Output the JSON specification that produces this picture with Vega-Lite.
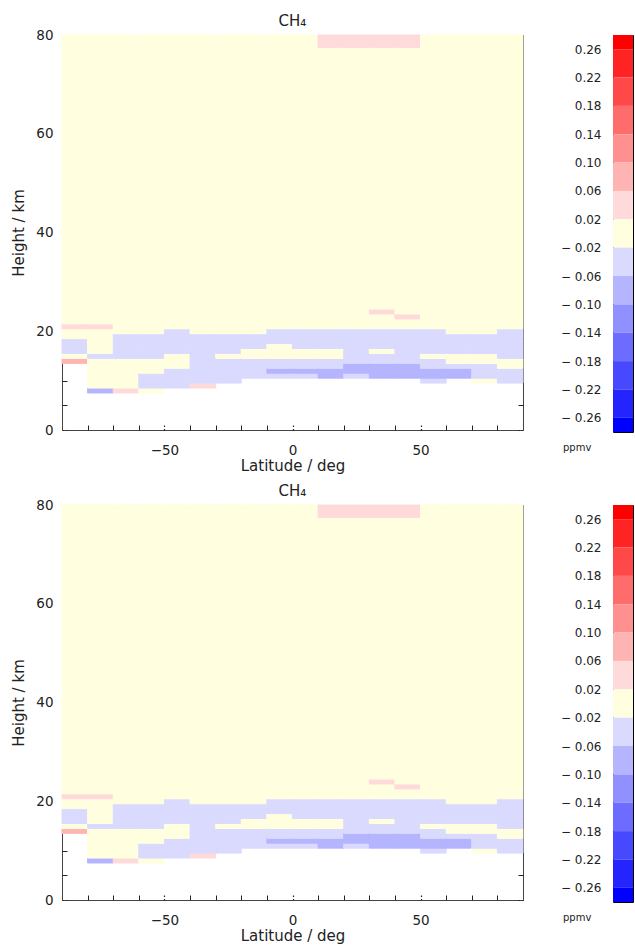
{
"$schema": "https://vega.github.io/schema/vega-lite/v6.json",
"autosize": {"type": "none"},
"padding": {"left": 62, "top": 35, "right": 573, "bottom": 910},
"background": "white",
"config": {"font": "DejaVu Sans", "axis": {"grid": false, "labelColor": "#222", "titleColor": "#222", "tickColor": "#222"}, "title": {"color": "#222"}},
"datasets": {
"cells": [
{"lat1":-90,"lat2":-80,"h1":13.5,"h2":14.5,"dv":0.08},
{"lat1":-90,"lat2":-80,"h1":14.5,"h2":15.5,"dv":0},
{"lat1":-90,"lat2":-80,"h1":15.5,"h2":16.5,"dv":-0.04},
{"lat1":-90,"lat2":-80,"h1":16.5,"h2":17.5,"dv":-0.04},
{"lat1":-90,"lat2":-80,"h1":17.5,"h2":18.5,"dv":-0.04},
{"lat1":-90,"lat2":-80,"h1":18.5,"h2":19.5,"dv":0},
{"lat1":-90,"lat2":-80,"h1":19.5,"h2":20.5,"dv":0},
{"lat1":-90,"lat2":-80,"h1":20.5,"h2":21.5,"dv":0.04},
{"lat1":-90,"lat2":-80,"h1":21.5,"h2":80,"dv":0},
{"lat1":-80,"lat2":-70,"h1":7.5,"h2":8.5,"dv":-0.08},
{"lat1":-80,"lat2":-70,"h1":8.5,"h2":9.5,"dv":0},
{"lat1":-80,"lat2":-70,"h1":9.5,"h2":10.5,"dv":0},
{"lat1":-80,"lat2":-70,"h1":10.5,"h2":11.5,"dv":0},
{"lat1":-80,"lat2":-70,"h1":11.5,"h2":12.5,"dv":0},
{"lat1":-80,"lat2":-70,"h1":12.5,"h2":13.5,"dv":0},
{"lat1":-80,"lat2":-70,"h1":13.5,"h2":14.5,"dv":0},
{"lat1":-80,"lat2":-70,"h1":14.5,"h2":15.5,"dv":-0.04},
{"lat1":-80,"lat2":-70,"h1":15.5,"h2":16.5,"dv":0},
{"lat1":-80,"lat2":-70,"h1":16.5,"h2":17.5,"dv":0},
{"lat1":-80,"lat2":-70,"h1":17.5,"h2":18.5,"dv":0},
{"lat1":-80,"lat2":-70,"h1":18.5,"h2":19.5,"dv":0},
{"lat1":-80,"lat2":-70,"h1":19.5,"h2":20.5,"dv":0},
{"lat1":-80,"lat2":-70,"h1":20.5,"h2":21.5,"dv":0.04},
{"lat1":-80,"lat2":-70,"h1":21.5,"h2":80,"dv":0},
{"lat1":-70,"lat2":-60,"h1":7.5,"h2":8.5,"dv":0.04},
{"lat1":-70,"lat2":-60,"h1":8.5,"h2":9.5,"dv":0},
{"lat1":-70,"lat2":-60,"h1":9.5,"h2":10.5,"dv":0},
{"lat1":-70,"lat2":-60,"h1":10.5,"h2":11.5,"dv":0},
{"lat1":-70,"lat2":-60,"h1":11.5,"h2":12.5,"dv":0},
{"lat1":-70,"lat2":-60,"h1":12.5,"h2":13.5,"dv":0},
{"lat1":-70,"lat2":-60,"h1":13.5,"h2":14.5,"dv":0},
{"lat1":-70,"lat2":-60,"h1":14.5,"h2":15.5,"dv":-0.04},
{"lat1":-70,"lat2":-60,"h1":15.5,"h2":16.5,"dv":-0.04},
{"lat1":-70,"lat2":-60,"h1":16.5,"h2":17.5,"dv":-0.04},
{"lat1":-70,"lat2":-60,"h1":17.5,"h2":18.5,"dv":-0.04},
{"lat1":-70,"lat2":-60,"h1":18.5,"h2":19.5,"dv":-0.04},
{"lat1":-70,"lat2":-60,"h1":19.5,"h2":20.5,"dv":0},
{"lat1":-70,"lat2":-60,"h1":20.5,"h2":21.5,"dv":0},
{"lat1":-70,"lat2":-60,"h1":21.5,"h2":80,"dv":0},
{"lat1":-60,"lat2":-50,"h1":7.5,"h2":8.5,"dv":0},
{"lat1":-60,"lat2":-50,"h1":8.5,"h2":9.5,"dv":-0.04},
{"lat1":-60,"lat2":-50,"h1":9.5,"h2":10.5,"dv":-0.04},
{"lat1":-60,"lat2":-50,"h1":10.5,"h2":11.5,"dv":-0.04},
{"lat1":-60,"lat2":-50,"h1":11.5,"h2":12.5,"dv":0},
{"lat1":-60,"lat2":-50,"h1":12.5,"h2":13.5,"dv":0},
{"lat1":-60,"lat2":-50,"h1":13.5,"h2":14.5,"dv":0},
{"lat1":-60,"lat2":-50,"h1":14.5,"h2":15.5,"dv":-0.04},
{"lat1":-60,"lat2":-50,"h1":15.5,"h2":16.5,"dv":-0.04},
{"lat1":-60,"lat2":-50,"h1":16.5,"h2":17.5,"dv":-0.04},
{"lat1":-60,"lat2":-50,"h1":17.5,"h2":18.5,"dv":-0.04},
{"lat1":-60,"lat2":-50,"h1":18.5,"h2":19.5,"dv":-0.04},
{"lat1":-60,"lat2":-50,"h1":19.5,"h2":20.5,"dv":0},
{"lat1":-60,"lat2":-50,"h1":20.5,"h2":21.5,"dv":0},
{"lat1":-60,"lat2":-50,"h1":21.5,"h2":80,"dv":0},
{"lat1":-50,"lat2":-40,"h1":8.5,"h2":9.5,"dv":-0.04},
{"lat1":-50,"lat2":-40,"h1":9.5,"h2":10.5,"dv":-0.04},
{"lat1":-50,"lat2":-40,"h1":10.5,"h2":11.5,"dv":-0.04},
{"lat1":-50,"lat2":-40,"h1":11.5,"h2":12.5,"dv":-0.04},
{"lat1":-50,"lat2":-40,"h1":12.5,"h2":13.5,"dv":0},
{"lat1":-50,"lat2":-40,"h1":13.5,"h2":14.5,"dv":0},
{"lat1":-50,"lat2":-40,"h1":14.5,"h2":15.5,"dv":0},
{"lat1":-50,"lat2":-40,"h1":15.5,"h2":16.5,"dv":-0.04},
{"lat1":-50,"lat2":-40,"h1":16.5,"h2":17.5,"dv":-0.04},
{"lat1":-50,"lat2":-40,"h1":17.5,"h2":18.5,"dv":-0.04},
{"lat1":-50,"lat2":-40,"h1":18.5,"h2":19.5,"dv":-0.04},
{"lat1":-50,"lat2":-40,"h1":19.5,"h2":20.5,"dv":-0.04},
{"lat1":-50,"lat2":-40,"h1":20.5,"h2":21.5,"dv":0},
{"lat1":-50,"lat2":-40,"h1":21.5,"h2":80,"dv":0},
{"lat1":-40,"lat2":-30,"h1":8.5,"h2":9.5,"dv":0.04},
{"lat1":-40,"lat2":-30,"h1":9.5,"h2":10.5,"dv":-0.04},
{"lat1":-40,"lat2":-30,"h1":10.5,"h2":11.5,"dv":-0.04},
{"lat1":-40,"lat2":-30,"h1":11.5,"h2":12.5,"dv":-0.04},
{"lat1":-40,"lat2":-30,"h1":12.5,"h2":13.5,"dv":-0.04},
{"lat1":-40,"lat2":-30,"h1":13.5,"h2":14.5,"dv":-0.04},
{"lat1":-40,"lat2":-30,"h1":14.5,"h2":15.5,"dv":-0.04},
{"lat1":-40,"lat2":-30,"h1":15.5,"h2":16.5,"dv":-0.04},
{"lat1":-40,"lat2":-30,"h1":16.5,"h2":17.5,"dv":-0.04},
{"lat1":-40,"lat2":-30,"h1":17.5,"h2":18.5,"dv":-0.04},
{"lat1":-40,"lat2":-30,"h1":18.5,"h2":19.5,"dv":-0.04},
{"lat1":-40,"lat2":-30,"h1":19.5,"h2":20.5,"dv":0},
{"lat1":-40,"lat2":-30,"h1":20.5,"h2":21.5,"dv":0},
{"lat1":-40,"lat2":-30,"h1":21.5,"h2":80,"dv":0},
{"lat1":-30,"lat2":-20,"h1":9.5,"h2":10.5,"dv":-0.04},
{"lat1":-30,"lat2":-20,"h1":10.5,"h2":11.5,"dv":-0.04},
{"lat1":-30,"lat2":-20,"h1":11.5,"h2":12.5,"dv":-0.04},
{"lat1":-30,"lat2":-20,"h1":12.5,"h2":13.5,"dv":-0.04},
{"lat1":-30,"lat2":-20,"h1":13.5,"h2":14.5,"dv":-0.04},
{"lat1":-30,"lat2":-20,"h1":14.5,"h2":15.5,"dv":0},
{"lat1":-30,"lat2":-20,"h1":15.5,"h2":16.5,"dv":-0.04},
{"lat1":-30,"lat2":-20,"h1":16.5,"h2":17.5,"dv":-0.04},
{"lat1":-30,"lat2":-20,"h1":17.5,"h2":18.5,"dv":-0.04},
{"lat1":-30,"lat2":-20,"h1":18.5,"h2":19.5,"dv":-0.04},
{"lat1":-30,"lat2":-20,"h1":19.5,"h2":20.5,"dv":0},
{"lat1":-30,"lat2":-20,"h1":20.5,"h2":21.5,"dv":0},
{"lat1":-30,"lat2":-20,"h1":21.5,"h2":80,"dv":0},
{"lat1":-20,"lat2":-10,"h1":10.5,"h2":11.5,"dv":-0.04},
{"lat1":-20,"lat2":-10,"h1":11.5,"h2":12.5,"dv":-0.04},
{"lat1":-20,"lat2":-10,"h1":12.5,"h2":13.5,"dv":-0.04},
{"lat1":-20,"lat2":-10,"h1":13.5,"h2":14.5,"dv":-0.04},
{"lat1":-20,"lat2":-10,"h1":14.5,"h2":15.5,"dv":0},
{"lat1":-20,"lat2":-10,"h1":15.5,"h2":16.5,"dv":0},
{"lat1":-20,"lat2":-10,"h1":16.5,"h2":17.5,"dv":-0.04},
{"lat1":-20,"lat2":-10,"h1":17.5,"h2":18.5,"dv":-0.04},
{"lat1":-20,"lat2":-10,"h1":18.5,"h2":19.5,"dv":-0.04},
{"lat1":-20,"lat2":-10,"h1":19.5,"h2":20.5,"dv":0},
{"lat1":-20,"lat2":-10,"h1":20.5,"h2":21.5,"dv":0},
{"lat1":-20,"lat2":-10,"h1":21.5,"h2":80,"dv":0},
{"lat1":-10,"lat2":0,"h1":10.5,"h2":11.5,"dv":-0.04},
{"lat1":-10,"lat2":0,"h1":11.5,"h2":12.5,"dv":-0.08},
{"lat1":-10,"lat2":0,"h1":12.5,"h2":13.5,"dv":-0.04},
{"lat1":-10,"lat2":0,"h1":13.5,"h2":14.5,"dv":-0.04},
{"lat1":-10,"lat2":0,"h1":14.5,"h2":15.5,"dv":0},
{"lat1":-10,"lat2":0,"h1":15.5,"h2":16.5,"dv":0},
{"lat1":-10,"lat2":0,"h1":16.5,"h2":17.5,"dv":0},
{"lat1":-10,"lat2":0,"h1":17.5,"h2":18.5,"dv":-0.04},
{"lat1":-10,"lat2":0,"h1":18.5,"h2":19.5,"dv":-0.04},
{"lat1":-10,"lat2":0,"h1":19.5,"h2":20.5,"dv":-0.04},
{"lat1":-10,"lat2":0,"h1":20.5,"h2":21.5,"dv":0},
{"lat1":-10,"lat2":0,"h1":21.5,"h2":80,"dv":0},
{"lat1":0,"lat2":10,"h1":10.5,"h2":11.5,"dv":-0.04},
{"lat1":0,"lat2":10,"h1":11.5,"h2":12.5,"dv":-0.08},
{"lat1":0,"lat2":10,"h1":12.5,"h2":13.5,"dv":-0.04},
{"lat1":0,"lat2":10,"h1":13.5,"h2":14.5,"dv":-0.04},
{"lat1":0,"lat2":10,"h1":14.5,"h2":15.5,"dv":0},
{"lat1":0,"lat2":10,"h1":15.5,"h2":16.5,"dv":0},
{"lat1":0,"lat2":10,"h1":16.5,"h2":17.5,"dv":-0.04},
{"lat1":0,"lat2":10,"h1":17.5,"h2":18.5,"dv":-0.04},
{"lat1":0,"lat2":10,"h1":18.5,"h2":19.5,"dv":-0.04},
{"lat1":0,"lat2":10,"h1":19.5,"h2":20.5,"dv":-0.04},
{"lat1":0,"lat2":10,"h1":20.5,"h2":21.5,"dv":0},
{"lat1":0,"lat2":10,"h1":21.5,"h2":80,"dv":0},
{"lat1":10,"lat2":20,"h1":10.5,"h2":11.5,"dv":-0.08},
{"lat1":10,"lat2":20,"h1":11.5,"h2":12.5,"dv":-0.08},
{"lat1":10,"lat2":20,"h1":12.5,"h2":13.5,"dv":-0.04},
{"lat1":10,"lat2":20,"h1":13.5,"h2":14.5,"dv":-0.04},
{"lat1":10,"lat2":20,"h1":14.5,"h2":15.5,"dv":0},
{"lat1":10,"lat2":20,"h1":15.5,"h2":16.5,"dv":0},
{"lat1":10,"lat2":20,"h1":16.5,"h2":17.5,"dv":-0.04},
{"lat1":10,"lat2":20,"h1":17.5,"h2":18.5,"dv":-0.04},
{"lat1":10,"lat2":20,"h1":18.5,"h2":19.5,"dv":-0.04},
{"lat1":10,"lat2":20,"h1":19.5,"h2":20.5,"dv":-0.04},
{"lat1":10,"lat2":20,"h1":20.5,"h2":21.5,"dv":0},
{"lat1":10,"lat2":20,"h1":21.5,"h2":77.5,"dv":0},
{"lat1":10,"lat2":20,"h1":77.5,"h2":80,"dv":0.04},
{"lat1":20,"lat2":30,"h1":10.5,"h2":11.5,"dv":-0.04},
{"lat1":20,"lat2":30,"h1":11.5,"h2":12.5,"dv":-0.08},
{"lat1":20,"lat2":30,"h1":12.5,"h2":13.5,"dv":-0.08},
{"lat1":20,"lat2":30,"h1":13.5,"h2":14.5,"dv":-0.04},
{"lat1":20,"lat2":30,"h1":14.5,"h2":15.5,"dv":-0.04},
{"lat1":20,"lat2":30,"h1":15.5,"h2":16.5,"dv":-0.04},
{"lat1":20,"lat2":30,"h1":16.5,"h2":17.5,"dv":-0.04},
{"lat1":20,"lat2":30,"h1":17.5,"h2":18.5,"dv":-0.04},
{"lat1":20,"lat2":30,"h1":18.5,"h2":19.5,"dv":-0.04},
{"lat1":20,"lat2":30,"h1":19.5,"h2":20.5,"dv":-0.04},
{"lat1":20,"lat2":30,"h1":20.5,"h2":21.5,"dv":0},
{"lat1":20,"lat2":30,"h1":21.5,"h2":77.5,"dv":0},
{"lat1":20,"lat2":30,"h1":77.5,"h2":80,"dv":0.04},
{"lat1":30,"lat2":40,"h1":10.5,"h2":11.5,"dv":-0.08},
{"lat1":30,"lat2":40,"h1":11.5,"h2":12.5,"dv":-0.08},
{"lat1":30,"lat2":40,"h1":12.5,"h2":13.5,"dv":-0.08},
{"lat1":30,"lat2":40,"h1":13.5,"h2":14.5,"dv":-0.04},
{"lat1":30,"lat2":40,"h1":14.5,"h2":15.5,"dv":-0.04},
{"lat1":30,"lat2":40,"h1":15.5,"h2":16.5,"dv":0},
{"lat1":30,"lat2":40,"h1":16.5,"h2":17.5,"dv":-0.04},
{"lat1":30,"lat2":40,"h1":17.5,"h2":18.5,"dv":-0.04},
{"lat1":30,"lat2":40,"h1":18.5,"h2":19.5,"dv":-0.04},
{"lat1":30,"lat2":40,"h1":19.5,"h2":20.5,"dv":-0.04},
{"lat1":30,"lat2":40,"h1":20.5,"h2":21.5,"dv":0},
{"lat1":30,"lat2":40,"h1":21.5,"h2":22.5,"dv":0},
{"lat1":30,"lat2":40,"h1":22.5,"h2":23.5,"dv":0},
{"lat1":30,"lat2":40,"h1":23.5,"h2":24.5,"dv":0.04},
{"lat1":30,"lat2":40,"h1":24.5,"h2":77.5,"dv":0},
{"lat1":30,"lat2":40,"h1":77.5,"h2":80,"dv":0.04},
{"lat1":40,"lat2":50,"h1":10.5,"h2":11.5,"dv":-0.08},
{"lat1":40,"lat2":50,"h1":11.5,"h2":12.5,"dv":-0.08},
{"lat1":40,"lat2":50,"h1":12.5,"h2":13.5,"dv":-0.08},
{"lat1":40,"lat2":50,"h1":13.5,"h2":14.5,"dv":-0.04},
{"lat1":40,"lat2":50,"h1":14.5,"h2":15.5,"dv":-0.04},
{"lat1":40,"lat2":50,"h1":15.5,"h2":16.5,"dv":-0.04},
{"lat1":40,"lat2":50,"h1":16.5,"h2":17.5,"dv":-0.04},
{"lat1":40,"lat2":50,"h1":17.5,"h2":18.5,"dv":-0.04},
{"lat1":40,"lat2":50,"h1":18.5,"h2":19.5,"dv":-0.04},
{"lat1":40,"lat2":50,"h1":19.5,"h2":20.5,"dv":-0.04},
{"lat1":40,"lat2":50,"h1":20.5,"h2":21.5,"dv":0},
{"lat1":40,"lat2":50,"h1":21.5,"h2":22.5,"dv":0},
{"lat1":40,"lat2":50,"h1":22.5,"h2":23.5,"dv":0.04},
{"lat1":40,"lat2":50,"h1":23.5,"h2":77.5,"dv":0},
{"lat1":40,"lat2":50,"h1":77.5,"h2":80,"dv":0.04},
{"lat1":50,"lat2":60,"h1":9.5,"h2":10.5,"dv":-0.04},
{"lat1":50,"lat2":60,"h1":10.5,"h2":11.5,"dv":-0.08},
{"lat1":50,"lat2":60,"h1":11.5,"h2":12.5,"dv":-0.08},
{"lat1":50,"lat2":60,"h1":12.5,"h2":13.5,"dv":-0.04},
{"lat1":50,"lat2":60,"h1":13.5,"h2":14.5,"dv":-0.04},
{"lat1":50,"lat2":60,"h1":14.5,"h2":15.5,"dv":0},
{"lat1":50,"lat2":60,"h1":15.5,"h2":16.5,"dv":-0.04},
{"lat1":50,"lat2":60,"h1":16.5,"h2":17.5,"dv":-0.04},
{"lat1":50,"lat2":60,"h1":17.5,"h2":18.5,"dv":-0.04},
{"lat1":50,"lat2":60,"h1":18.5,"h2":19.5,"dv":-0.04},
{"lat1":50,"lat2":60,"h1":19.5,"h2":20.5,"dv":-0.04},
{"lat1":50,"lat2":60,"h1":20.5,"h2":21.5,"dv":0},
{"lat1":50,"lat2":60,"h1":21.5,"h2":80,"dv":0},
{"lat1":60,"lat2":70,"h1":10.5,"h2":11.5,"dv":-0.08},
{"lat1":60,"lat2":70,"h1":11.5,"h2":12.5,"dv":-0.08},
{"lat1":60,"lat2":70,"h1":12.5,"h2":13.5,"dv":-0.04},
{"lat1":60,"lat2":70,"h1":13.5,"h2":14.5,"dv":0},
{"lat1":60,"lat2":70,"h1":14.5,"h2":15.5,"dv":0},
{"lat1":60,"lat2":70,"h1":15.5,"h2":16.5,"dv":-0.04},
{"lat1":60,"lat2":70,"h1":16.5,"h2":17.5,"dv":-0.04},
{"lat1":60,"lat2":70,"h1":17.5,"h2":18.5,"dv":-0.04},
{"lat1":60,"lat2":70,"h1":18.5,"h2":19.5,"dv":-0.04},
{"lat1":60,"lat2":70,"h1":19.5,"h2":20.5,"dv":0},
{"lat1":60,"lat2":70,"h1":20.5,"h2":21.5,"dv":0},
{"lat1":60,"lat2":70,"h1":21.5,"h2":80,"dv":0},
{"lat1":70,"lat2":80,"h1":9.5,"h2":10.5,"dv":0},
{"lat1":70,"lat2":80,"h1":10.5,"h2":11.5,"dv":-0.04},
{"lat1":70,"lat2":80,"h1":11.5,"h2":12.5,"dv":-0.04},
{"lat1":70,"lat2":80,"h1":12.5,"h2":13.5,"dv":-0.04},
{"lat1":70,"lat2":80,"h1":13.5,"h2":14.5,"dv":0},
{"lat1":70,"lat2":80,"h1":14.5,"h2":15.5,"dv":0},
{"lat1":70,"lat2":80,"h1":15.5,"h2":16.5,"dv":-0.04},
{"lat1":70,"lat2":80,"h1":16.5,"h2":17.5,"dv":-0.04},
{"lat1":70,"lat2":80,"h1":17.5,"h2":18.5,"dv":-0.04},
{"lat1":70,"lat2":80,"h1":18.5,"h2":19.5,"dv":-0.04},
{"lat1":70,"lat2":80,"h1":19.5,"h2":20.5,"dv":0},
{"lat1":70,"lat2":80,"h1":20.5,"h2":21.5,"dv":0},
{"lat1":70,"lat2":80,"h1":21.5,"h2":80,"dv":0},
{"lat1":80,"lat2":90,"h1":9.5,"h2":10.5,"dv":-0.04},
{"lat1":80,"lat2":90,"h1":10.5,"h2":11.5,"dv":-0.04},
{"lat1":80,"lat2":90,"h1":11.5,"h2":12.5,"dv":-0.04},
{"lat1":80,"lat2":90,"h1":12.5,"h2":13.5,"dv":0},
{"lat1":80,"lat2":90,"h1":13.5,"h2":14.5,"dv":0},
{"lat1":80,"lat2":90,"h1":14.5,"h2":15.5,"dv":-0.04},
{"lat1":80,"lat2":90,"h1":15.5,"h2":16.5,"dv":-0.04},
{"lat1":80,"lat2":90,"h1":16.5,"h2":17.5,"dv":-0.04},
{"lat1":80,"lat2":90,"h1":17.5,"h2":18.5,"dv":-0.04},
{"lat1":80,"lat2":90,"h1":18.5,"h2":19.5,"dv":-0.04},
{"lat1":80,"lat2":90,"h1":19.5,"h2":20.5,"dv":-0.04},
{"lat1":80,"lat2":90,"h1":20.5,"h2":21.5,"dv":0},
{"lat1":80,"lat2":90,"h1":21.5,"h2":80,"dv":0}
],
"bar": [
{"lo":0.26,"hi":0.28,"dv":0.27},
{"lo":0.22,"hi":0.26,"dv":0.24},
{"lo":0.18,"hi":0.22,"dv":0.2},
{"lo":0.14,"hi":0.18,"dv":0.16},
{"lo":0.10,"hi":0.14,"dv":0.12},
{"lo":0.06,"hi":0.10,"dv":0.08},
{"lo":0.02,"hi":0.06,"dv":0.04},
{"lo":-0.02,"hi":0.02,"dv":0},
{"lo":-0.06,"hi":-0.02,"dv":-0.04},
{"lo":-0.10,"hi":-0.06,"dv":-0.08},
{"lo":-0.14,"hi":-0.10,"dv":-0.12},
{"lo":-0.18,"hi":-0.14,"dv":-0.16},
{"lo":-0.22,"hi":-0.18,"dv":-0.2},
{"lo":-0.26,"hi":-0.22,"dv":-0.24},
{"lo":-0.28,"hi":-0.26,"dv":-0.27}
]
},
"bounds": "flush",
"align": "each",
"columns": 2,
"spacing": {"row": 73, "column": 90},
"concat": [
{
"width": 461, "height": 395,
"title": {"text": "CH₄", "fontSize": 15, "fontWeight": "normal", "offset": 6, "dy": 7},
"view": {"stroke": "#444", "strokeWidth": 1},
"resolve": {"axis": {"x": "independent", "y": "independent"}},
"layer": [
{"data": {"name": "cells"},
 "mark": {"type": "rect", "strokeWidth": 1},
 "encoding": {
  "x": {"field": "lat1", "type": "quantitative", "scale": {"domain": [-90, 90], "nice": false, "zero": false},
        "axis": {"orient": "bottom", "values": [-50, 0, 50], "title": "Latitude / deg", "titleFontSize": 15, "titleFontWeight": "normal", "titlePadding": 2, "labelFontSize": 13.5, "labelPadding": 20, "tickSize": -7, "tickDash": [1.5, 2], "tickWidth": 1.2, "domain": false, "labelFlush": false}},
  "x2": {"field": "lat2"},
  "y": {"field": "h1", "type": "quantitative", "scale": {"domain": [0, 80], "nice": false, "zero": false},
        "axis": {"orient": "left", "values": [0, 20, 40, 60, 80], "title": "Height / km", "titleFontSize": 15, "titleFontWeight": "normal", "titlePadding": 9, "labelFontSize": 13.5, "labelPadding": 16, "tickSize": -7, "tickDash": [1.5, 2], "tickWidth": 1.2, "domain": false, "labelFlush": false}},
  "y2": {"field": "h2"},
  "color": {"field": "dv", "type": "quantitative", "scale": {"type": "threshold", "domain": [-0.26, -0.22, -0.18, -0.14, -0.1, -0.06, -0.02, 0.02, 0.06, 0.1, 0.14, 0.18, 0.22, 0.26], "range": ["#0000ff", "#2424ff", "#4848ff", "#6c6cff", "#9090ff", "#b4b4ff", "#dadaff", "#ffffe0", "#ffdada", "#ffb4b4", "#ff9090", "#ff6c6c", "#ff4848", "#ff2424", "#ff0000"]}, "legend": null},
  "stroke": {"field": "dv", "type": "quantitative", "scale": {"type": "threshold", "domain": [-0.26, -0.22, -0.18, -0.14, -0.1, -0.06, -0.02, 0.02, 0.06, 0.1, 0.14, 0.18, 0.22, 0.26], "range": ["#0000ff", "#2424ff", "#4848ff", "#6c6cff", "#9090ff", "#b4b4ff", "#dadaff", "#ffffe0", "#ffdada", "#ffb4b4", "#ff9090", "#ff6c6c", "#ff4848", "#ff2424", "#ff0000"]}, "legend": null}
 }},
{"data": {"values": [{"lat1": 0, "h1": 40}]},
 "mark": {"type": "point", "opacity": 0},
 "encoding": {
  "x": {"field": "lat1", "type": "quantitative", "scale": {"domain": [-90, 90], "nice": false, "zero": false},
        "axis": {"orient": "bottom", "values": [-80, -70, -60, -40, -30, -20, -10, 10, 20, 30, 40, 60, 70, 80], "labels": false, "title": null, "tickSize": -5, "domain": false}},
  "y": {"field": "h1", "type": "quantitative", "scale": {"domain": [0, 80], "nice": false, "zero": false},
        "axis": {"orient": "left", "values": [5, 10, 15, 25, 30, 35, 45, 50, 55, 65, 70, 75], "labels": false, "title": null, "tickSize": -5, "domain": false}}
 }},
{"data": {"values": [{"lat1": 0, "h1": 40}]},
 "mark": {"type": "point", "opacity": 0},
 "encoding": {
  "x": {"field": "lat1", "type": "quantitative", "scale": {"domain": [-90, 90], "nice": false, "zero": false},
        "axis": {"orient": "top", "values": [-50, 0, 50], "labels": false, "title": null, "tickSize": -7, "tickDash": [1.5, 2], "tickWidth": 1.2, "domain": false}},
  "y": {"field": "h1", "type": "quantitative", "scale": {"domain": [0, 80], "nice": false, "zero": false},
        "axis": {"orient": "right", "values": [0, 20, 40, 60, 80], "labels": false, "title": null, "tickSize": -7, "tickDash": [1.5, 2], "tickWidth": 1.2, "domain": false}}
 }},
{"data": {"values": [{"lat1": 0, "h1": 40}]},
 "mark": {"type": "point", "opacity": 0},
 "encoding": {
  "x": {"field": "lat1", "type": "quantitative", "scale": {"domain": [-90, 90], "nice": false, "zero": false},
        "axis": {"orient": "top", "values": [-80, -70, -60, -40, -30, -20, -10, 10, 20, 30, 40, 60, 70, 80], "labels": false, "title": null, "tickSize": -5, "domain": false}},
  "y": {"field": "h1", "type": "quantitative", "scale": {"domain": [0, 80], "nice": false, "zero": false},
        "axis": {"orient": "right", "values": [5, 10, 15, 25, 30, 35, 45, 50, 55, 65, 70, 75], "labels": false, "title": null, "tickSize": -5, "domain": false}}
 }}
]
},
{
"width": 20, "height": 397,
"data": {"name": "bar"},
"view": {"stroke": "#000", "strokeWidth": 1},
"title": {"text": "ppmv", "orient": "bottom", "anchor": "start", "frame": "group", "dx": -50, "offset": 11, "fontSize": 10, "fontWeight": "normal"},
"mark": "rect",
"encoding": {
 "y": {"field": "lo", "type": "quantitative", "scale": {"domain": [-0.28, 0.28], "nice": false, "zero": false},
       "axis": {"orient": "left", "values": [0.26, 0.22, 0.18, 0.14, 0.1, 0.06, 0.02, -0.02, -0.06, -0.1, -0.14, -0.18, -0.22, -0.26], "labelExpr": "datum.value < 0 ? '− ' + format(-datum.value, '.2f') : format(datum.value, '.2f')", "ticks": false, "domain": false, "labelPadding": 12, "labelFontSize": 12, "title": null}},
 "y2": {"field": "hi"},
 "color": {"field": "dv", "type": "quantitative", "scale": {"type": "threshold", "domain": [-0.26, -0.22, -0.18, -0.14, -0.1, -0.06, -0.02, 0.02, 0.06, 0.1, 0.14, 0.18, 0.22, 0.26], "range": ["#0000ff", "#2424ff", "#4848ff", "#6c6cff", "#9090ff", "#b4b4ff", "#dadaff", "#ffffe0", "#ffdada", "#ffb4b4", "#ff9090", "#ff6c6c", "#ff4848", "#ff2424", "#ff0000"]}, "legend": null}
}
},
{
"width": 461, "height": 395,
"title": {"text": "CH₄", "fontSize": 15, "fontWeight": "normal", "offset": 6, "dy": 7},
"view": {"stroke": "#444", "strokeWidth": 1},
"resolve": {"axis": {"x": "independent", "y": "independent"}},
"layer": [
{"data": {"name": "cells"},
 "mark": {"type": "rect", "strokeWidth": 1},
 "encoding": {
  "x": {"field": "lat1", "type": "quantitative", "scale": {"domain": [-90, 90], "nice": false, "zero": false},
        "axis": {"orient": "bottom", "values": [-50, 0, 50], "title": "Latitude / deg", "titleFontSize": 15, "titleFontWeight": "normal", "titlePadding": 2, "labelFontSize": 13.5, "labelPadding": 20, "tickSize": -7, "tickDash": [1.5, 2], "tickWidth": 1.2, "domain": false, "labelFlush": false}},
  "x2": {"field": "lat2"},
  "y": {"field": "h1", "type": "quantitative", "scale": {"domain": [0, 80], "nice": false, "zero": false},
        "axis": {"orient": "left", "values": [0, 20, 40, 60, 80], "title": "Height / km", "titleFontSize": 15, "titleFontWeight": "normal", "titlePadding": 9, "labelFontSize": 13.5, "labelPadding": 16, "tickSize": -7, "tickDash": [1.5, 2], "tickWidth": 1.2, "domain": false, "labelFlush": false}},
  "y2": {"field": "h2"},
  "color": {"field": "dv", "type": "quantitative", "scale": {"type": "threshold", "domain": [-0.26, -0.22, -0.18, -0.14, -0.1, -0.06, -0.02, 0.02, 0.06, 0.1, 0.14, 0.18, 0.22, 0.26], "range": ["#0000ff", "#2424ff", "#4848ff", "#6c6cff", "#9090ff", "#b4b4ff", "#dadaff", "#ffffe0", "#ffdada", "#ffb4b4", "#ff9090", "#ff6c6c", "#ff4848", "#ff2424", "#ff0000"]}, "legend": null},
  "stroke": {"field": "dv", "type": "quantitative", "scale": {"type": "threshold", "domain": [-0.26, -0.22, -0.18, -0.14, -0.1, -0.06, -0.02, 0.02, 0.06, 0.1, 0.14, 0.18, 0.22, 0.26], "range": ["#0000ff", "#2424ff", "#4848ff", "#6c6cff", "#9090ff", "#b4b4ff", "#dadaff", "#ffffe0", "#ffdada", "#ffb4b4", "#ff9090", "#ff6c6c", "#ff4848", "#ff2424", "#ff0000"]}, "legend": null}
 }},
{"data": {"values": [{"lat1": 0, "h1": 40}]},
 "mark": {"type": "point", "opacity": 0},
 "encoding": {
  "x": {"field": "lat1", "type": "quantitative", "scale": {"domain": [-90, 90], "nice": false, "zero": false},
        "axis": {"orient": "bottom", "values": [-80, -70, -60, -40, -30, -20, -10, 10, 20, 30, 40, 60, 70, 80], "labels": false, "title": null, "tickSize": -5, "domain": false}},
  "y": {"field": "h1", "type": "quantitative", "scale": {"domain": [0, 80], "nice": false, "zero": false},
        "axis": {"orient": "left", "values": [5, 10, 15, 25, 30, 35, 45, 50, 55, 65, 70, 75], "labels": false, "title": null, "tickSize": -5, "domain": false}}
 }},
{"data": {"values": [{"lat1": 0, "h1": 40}]},
 "mark": {"type": "point", "opacity": 0},
 "encoding": {
  "x": {"field": "lat1", "type": "quantitative", "scale": {"domain": [-90, 90], "nice": false, "zero": false},
        "axis": {"orient": "top", "values": [-50, 0, 50], "labels": false, "title": null, "tickSize": -7, "tickDash": [1.5, 2], "tickWidth": 1.2, "domain": false}},
  "y": {"field": "h1", "type": "quantitative", "scale": {"domain": [0, 80], "nice": false, "zero": false},
        "axis": {"orient": "right", "values": [0, 20, 40, 60, 80], "labels": false, "title": null, "tickSize": -7, "tickDash": [1.5, 2], "tickWidth": 1.2, "domain": false}}
 }},
{"data": {"values": [{"lat1": 0, "h1": 40}]},
 "mark": {"type": "point", "opacity": 0},
 "encoding": {
  "x": {"field": "lat1", "type": "quantitative", "scale": {"domain": [-90, 90], "nice": false, "zero": false},
        "axis": {"orient": "top", "values": [-80, -70, -60, -40, -30, -20, -10, 10, 20, 30, 40, 60, 70, 80], "labels": false, "title": null, "tickSize": -5, "domain": false}},
  "y": {"field": "h1", "type": "quantitative", "scale": {"domain": [0, 80], "nice": false, "zero": false},
        "axis": {"orient": "right", "values": [5, 10, 15, 25, 30, 35, 45, 50, 55, 65, 70, 75], "labels": false, "title": null, "tickSize": -5, "domain": false}}
 }}
]
},
{
"width": 20, "height": 397,
"data": {"name": "bar"},
"view": {"stroke": "#000", "strokeWidth": 1},
"title": {"text": "ppmv", "orient": "bottom", "anchor": "start", "frame": "group", "dx": -50, "offset": 11, "fontSize": 10, "fontWeight": "normal"},
"mark": "rect",
"encoding": {
 "y": {"field": "lo", "type": "quantitative", "scale": {"domain": [-0.28, 0.28], "nice": false, "zero": false},
       "axis": {"orient": "left", "values": [0.26, 0.22, 0.18, 0.14, 0.1, 0.06, 0.02, -0.02, -0.06, -0.1, -0.14, -0.18, -0.22, -0.26], "labelExpr": "datum.value < 0 ? '− ' + format(-datum.value, '.2f') : format(datum.value, '.2f')", "ticks": false, "domain": false, "labelPadding": 12, "labelFontSize": 12, "title": null}},
 "y2": {"field": "hi"},
 "color": {"field": "dv", "type": "quantitative", "scale": {"type": "threshold", "domain": [-0.26, -0.22, -0.18, -0.14, -0.1, -0.06, -0.02, 0.02, 0.06, 0.1, 0.14, 0.18, 0.22, 0.26], "range": ["#0000ff", "#2424ff", "#4848ff", "#6c6cff", "#9090ff", "#b4b4ff", "#dadaff", "#ffffe0", "#ffdada", "#ffb4b4", "#ff9090", "#ff6c6c", "#ff4848", "#ff2424", "#ff0000"]}, "legend": null}
}
}
]
}
